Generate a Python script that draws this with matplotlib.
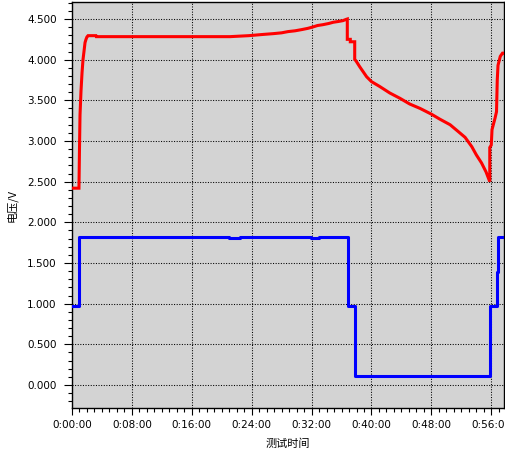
import matplotlib
matplotlib.use("Agg")
import matplotlib.pyplot as plt
from matplotlib.ticker import MultipleLocator, FuncFormatter

# ---- data (time in minutes, voltage in V) ----
red_t = [0, 0.93, 1.0, 1.07, 1.2, 1.34, 1.47, 1.6, 1.74, 1.87, 2.0, 2.14, 3.2, 3.25,
         21.1, 23.6, 25.5, 26.9, 28.0, 28.85, 29.8, 30.7, 31.5, 32.1, 32.8, 33.5,
         34.3, 34.9, 35.6, 36.2, 36.6, 36.77, 36.77, 37.17, 37.17, 37.76, 37.76,
         38.0, 38.45, 38.9, 39.35, 40.0, 41.1, 42.45, 43.8, 45.1, 46.5, 48.0, 49.1,
         50.5, 51.6, 52.5, 53.4, 54.0, 54.7, 55.3, 55.8, 55.8, 56.0, 56.1, 56.5,
         56.7, 56.8, 56.9, 57.2, 57.5, 57.7]
red_v = [2.42, 2.42, 2.90, 3.32, 3.61, 3.84, 4.00, 4.10, 4.21, 4.25, 4.28, 4.295, 4.295, 4.283,
         4.283, 4.295, 4.31, 4.32, 4.33, 4.345, 4.355, 4.37, 4.385, 4.40, 4.42, 4.43,
         4.445, 4.46, 4.47, 4.48, 4.495, 4.50, 4.25, 4.25, 4.22, 4.22, 4.005,
         3.975, 3.91, 3.85, 3.79, 3.73, 3.67, 3.59, 3.525, 3.455, 3.40, 3.33, 3.27,
         3.20, 3.115, 3.045, 2.93, 2.83, 2.73, 2.62, 2.50, 2.92, 2.95, 3.14, 3.28,
         3.36, 3.75, 3.93, 4.04, 4.08, 4.08]

blue_t = [0, 0.9, 21.0, 22.5, 31.9, 33.0, 36.8, 37.76, 55.84, 56.8, 56.95, 57.7]
blue_v = [0.975, 1.82, 1.807, 1.82, 1.807, 1.82, 0.975, 0.115, 0.97, 1.39, 1.82, 1.82]

x_major = 8
y_major = 0.5
xlabel = "测试时间"
ylabel = "电压/V"

fig = plt.figure(figsize=(5.05, 4.51), dpi=100)
ax = fig.add_axes([72/505, 1-408/451, 432/505, 406/451])
ax.set_facecolor("#d3d3d3")

ax.plot(red_t, red_v, color="#ff0000", lw=2.2, solid_joinstyle="miter", zorder=3)
ax.step(blue_t, blue_v, where="post", color="#0000ff", lw=2.2, zorder=3)

ax.set_xlim(0, 57.7)
ax.set_ylim(-0.283, 4.709)

ax.xaxis.set_major_locator(MultipleLocator(x_major))
ax.xaxis.set_minor_locator(MultipleLocator(1))
ax.yaxis.set_major_locator(MultipleLocator(y_major))
ax.yaxis.set_minor_locator(MultipleLocator(0.1))
ax.xaxis.set_major_formatter(FuncFormatter(lambda v, p: "0:%02d:00" % int(round(v))))
ax.yaxis.set_major_formatter(FuncFormatter(lambda v, p: "%.3f" % v))

ax.grid(True, which="major", color="black", lw=0.75, linestyle=(0, (1, 1.5)), zorder=1)
ax.set_axisbelow(True)

for s in ax.spines.values():
    s.set_color("black")
    s.set_linewidth(1.0)

ax.tick_params(which="major", direction="out", length=5, width=0.8, labelsize=7.5,
               colors="black", pad=4)
ax.tick_params(which="minor", direction="out", length=3, width=0.8)
ax.tick_params(axis="y", which="major", length=6, pad=5)

ax.set_xlabel(xlabel, fontsize=8, family=["Noto Sans CJK SC", "DejaVu Sans"])
ax.set_ylabel(ylabel, fontsize=8, family=["Noto Sans CJK SC", "DejaVu Sans"])
ax.xaxis.set_label_coords(0.5, -0.075)
ax.yaxis.set_label_coords(-0.125, 0.5)

fig.savefig("out.png", dpi=100)
